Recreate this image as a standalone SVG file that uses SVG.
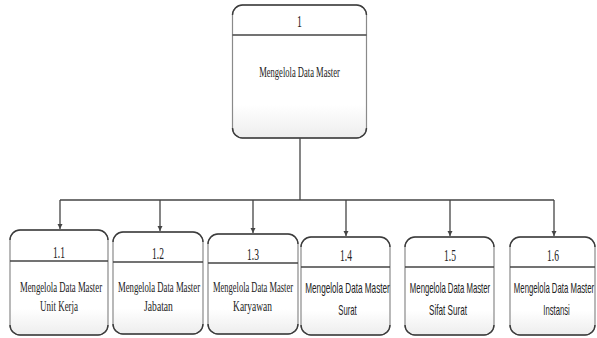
<svg xmlns="http://www.w3.org/2000/svg" width="597" height="338" viewBox="0 0 597 338">
<style>
.box{fill:url(#g);stroke:#8a8a8a;stroke-width:1.2}
.edge{fill:none;stroke:#3c3c3c;stroke-width:1.4}
.div{stroke:#444;stroke-width:1.4}
.conn{fill:none;stroke:#444;stroke-width:1.3}
.serif{font-family:"Liberation Serif","Times New Roman",serif;fill:#222;text-anchor:middle;font-size:15px}
.num{font-family:"Liberation Serif","Times New Roman",serif;fill:#222;text-anchor:middle;font-size:17px}
.sans{font-family:"Liberation Sans",Arial,sans-serif;fill:#222;text-anchor:middle;font-size:14px}
</style>
<defs>
<linearGradient id="g" x1="0" y1="0" x2="0" y2="1">
<stop offset="0" stop-color="#ffffff"/>
<stop offset="0.75" stop-color="#ffffff"/>
<stop offset="1" stop-color="#ededed"/>
</linearGradient>
<marker id="arr" viewBox="0 0 10 10" refX="10" refY="5" markerWidth="5" markerHeight="8" orient="auto" markerUnits="userSpaceOnUse">
<path d="M0,0 L10,5 L0,10 Z" fill="#444"/>
</marker>
</defs>

<g id="connectors">
<path class="conn" d="M300,138 V200"/>
<path class="conn" d="M60,200 H554"/>
<path class="conn" d="M60,200 V229" marker-end="url(#arr)"/>
<path class="conn" d="M160,200 V231" marker-end="url(#arr)"/>
<path class="conn" d="M253,200 V233" marker-end="url(#arr)"/>
<path class="conn" d="M346,200 V236" marker-end="url(#arr)"/>
<path class="conn" d="M450,200 V236" marker-end="url(#arr)"/>
<path class="conn" d="M554,200 V236" marker-end="url(#arr)"/>
</g>

<g id="node-1">
<rect class="box" x="232.5" y="5" width="134" height="133" rx="10"/>
<path class="edge" d="M232.5,15 A10,10 0 0 1 242.5,5 H356.5 A10,10 0 0 1 366.5,15"/>
<path class="edge" d="M232.5,128 A10,10 0 0 0 242.5,138 H356.5 A10,10 0 0 0 366.5,128"/>
<line class="div" x1="232.5" y1="35" x2="366.5" y2="35"/>
<text class="num" transform="translate(299.5,27) scale(0.58,1)">1</text>
<text class="serif" transform="translate(299.5,77) scale(0.57,1)">Mengelola Data Master</text>
</g>

<g id="node-1-1">
<rect class="box" x="10" y="230" width="98" height="105" rx="10"/>
<path class="edge" d="M10,240 A10,10 0 0 1 20,230 H98 A10,10 0 0 1 108,240"/>
<path class="edge" d="M10,325 A10,10 0 0 0 20,335 H98 A10,10 0 0 0 108,325"/>
<line class="div" x1="10" y1="261" x2="108" y2="261"/>
<text class="num" transform="translate(59,258) scale(0.56,1)">1.1</text>
<text class="serif" transform="translate(61,292) scale(0.58,1)">Mengelola Data Master</text>
<text class="serif" transform="translate(59,311) scale(0.6,1)">Unit Kerja</text>
</g>

<g id="node-1-2">
<rect class="box" x="113" y="232" width="90" height="102" rx="10"/>
<path class="edge" d="M113,242 A10,10 0 0 1 123,232 H193 A10,10 0 0 1 203,242"/>
<path class="edge" d="M113,324 A10,10 0 0 0 123,334 H193 A10,10 0 0 0 203,324"/>
<line class="div" x1="113" y1="262" x2="203" y2="262"/>
<text class="num" transform="translate(158,259) scale(0.56,1)">1.2</text>
<text class="serif" transform="translate(159,292) scale(0.58,1)">Mengelola Data Master</text>
<text class="serif" transform="translate(158.5,311) scale(0.64,1)">Jabatan</text>
</g>

<g id="node-1-3">
<rect class="box" x="208" y="234" width="90" height="100" rx="10"/>
<path class="edge" d="M208,244 A10,10 0 0 1 218,234 H288 A10,10 0 0 1 298,244"/>
<path class="edge" d="M208,324 A10,10 0 0 0 218,334 H288 A10,10 0 0 0 298,324"/>
<line class="div" x1="208" y1="263" x2="298" y2="263"/>
<text class="num" transform="translate(253,260) scale(0.56,1)">1.3</text>
<text class="serif" transform="translate(253,292) scale(0.565,1)">Mengelola Data Master</text>
<text class="serif" transform="translate(252.5,311) scale(0.63,1)">Karyawan</text>
</g>

<g id="node-1-4">
<rect class="box" x="301" y="237" width="89" height="98" rx="10"/>
<path class="edge" d="M301,247 A10,10 0 0 1 311,237 H380 A10,10 0 0 1 390,247"/>
<path class="edge" d="M301,325 A10,10 0 0 0 311,335 H380 A10,10 0 0 0 390,325"/>
<line class="div" x1="301" y1="267" x2="390" y2="267"/>
<text class="num" transform="translate(346,261) scale(0.56,1)">1.4</text>
<text class="sans" transform="translate(347.5,293) scale(0.585,1)">Mengelola Data Master</text>
<text class="sans" transform="translate(347.5,315) scale(0.55,1)">Surat</text>
</g>

<g id="node-1-5">
<rect class="box" x="405" y="237" width="89" height="98" rx="10"/>
<path class="edge" d="M405,247 A10,10 0 0 1 415,237 H484 A10,10 0 0 1 494,247"/>
<path class="edge" d="M405,325 A10,10 0 0 0 415,335 H484 A10,10 0 0 0 494,325"/>
<line class="div" x1="405" y1="267" x2="494" y2="267"/>
<text class="num" transform="translate(450,261) scale(0.56,1)">1.5</text>
<text class="sans" transform="translate(450,293) scale(0.555,1)">Mengelola Data Master</text>
<text class="sans" transform="translate(448,315) scale(0.58,1)">Sifat Surat</text>
</g>

<g id="node-1-6">
<rect class="box" x="510" y="237" width="85" height="98" rx="10"/>
<path class="edge" d="M510,247 A10,10 0 0 1 520,237 H585 A10,10 0 0 1 595,247"/>
<path class="edge" d="M510,325 A10,10 0 0 0 520,335 H585 A10,10 0 0 0 595,325"/>
<line class="div" x1="510" y1="267" x2="595" y2="267"/>
<text class="num" transform="translate(553,261) scale(0.56,1)">1.6</text>
<text class="sans" transform="translate(554,293) scale(0.555,1)">Mengelola Data Master</text>
<text class="sans" transform="translate(556.5,315) scale(0.55,1)">Instansi</text>
</g>
</svg>
